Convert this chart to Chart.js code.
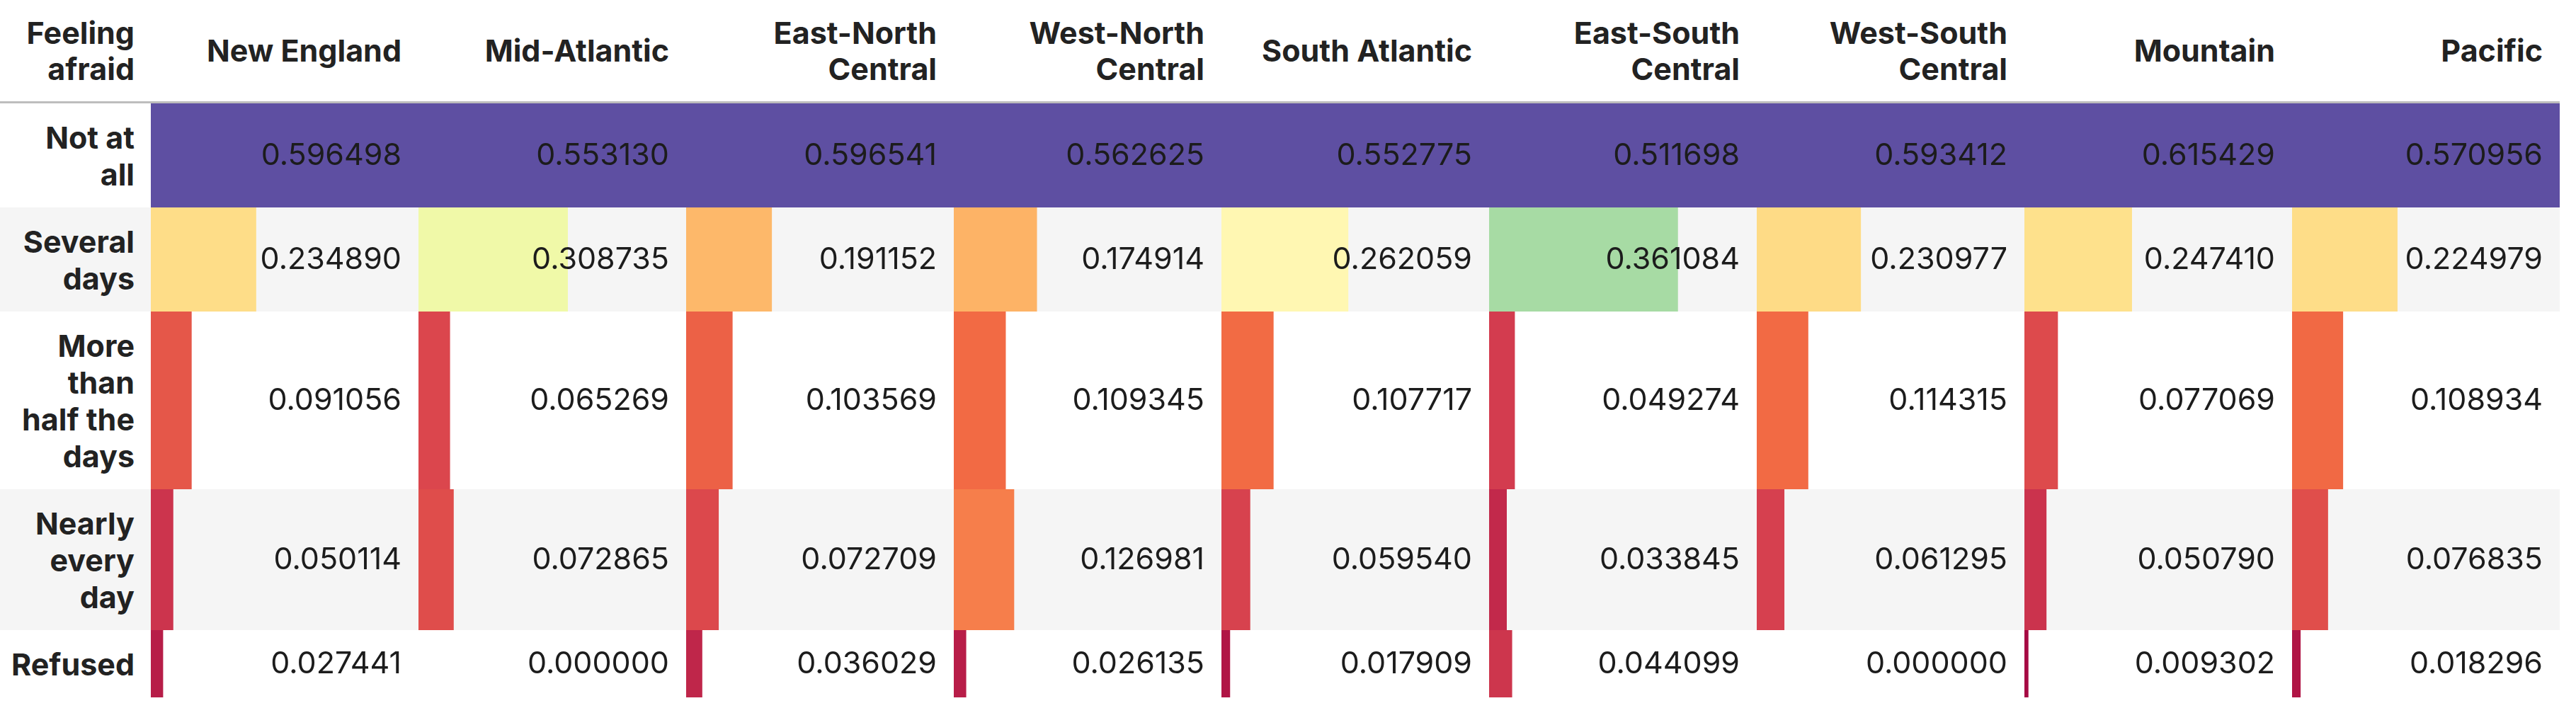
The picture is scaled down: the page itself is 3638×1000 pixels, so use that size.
<!DOCTYPE html>
<html>
<head>
<meta charset="utf-8">
<script src="https://cdn.jsdelivr.net/npm/chart.js@4.4.1/dist/chart.umd.min.js"></script>
<style>
  body { margin: 0; background: #fff; font-family: Inter, 'Noto Sans', sans-serif; color: #222; }
  #table { position: relative; width: 3638px; height: 1000px; }
  .hdr { position: absolute; top: 0; height: 143px; display: flex; align-items: center; justify-content: flex-end;
         text-align: right; font-weight: 700; font-size: 43px; line-height: 51px; padding-right: 24px; box-sizing: border-box; }
  .rule { position: absolute; left: 0; top: 143px; width: 3615px; height: 3px; background: #bdbdbd; }
  .row { position: absolute; left: 0; width: 3615px; }
  .row.alt { background: #f5f5f5; }
  .lbl { position: absolute; left: 0; top: 0; width: 213px; height: 100%; display: flex; align-items: center; justify-content: flex-end;
         text-align: right; padding-right: 23px; box-sizing: border-box; font-weight: 700; font-size: 43px; line-height: 52px; }
  .row canvas { position: absolute; left: 213px; top: 0; }
</style>
</head>
<body>
<div id="table"></div>
<script>
const indexName = ['Feeling', 'afraid']
const regions = ['New England', 'Mid-Atlantic', 'East-North Central', 'West-North Central', 'South Atlantic',
	'East-South Central', 'West-South Central', 'Mountain', 'Pacific']
const categories = [['Not at', 'all'], ['Several', 'days'], ['More', 'than', 'half the', 'days'], ['Nearly', 'every', 'day'], ['Refused']]

const notAtAll = [0.596498, 0.553130, 0.596541, 0.562625, 0.552775, 0.511698, 0.593412, 0.615429, 0.570956]
const severalDays = [0.234890, 0.308735, 0.191152, 0.174914, 0.262059, 0.361084, 0.230977, 0.247410, 0.224979]
const moreThanHalf = [0.091056, 0.065269, 0.103569, 0.109345, 0.107717, 0.049274, 0.114315, 0.077069, 0.108934]
const nearlyEveryDay = [0.050114, 0.072865, 0.072709, 0.126981, 0.059540, 0.033845, 0.061295, 0.050790, 0.076835]
const refused = [0.027441, 0.000000, 0.036029, 0.026135, 0.017909, 0.044099, 0.000000, 0.009302, 0.018296]

const series = [notAtAll, severalDays, moreThanHalf, nearlyEveryDay, refused]

// layout
const LABEL_W = 213
const COL_W = 378
const HEAD_H = 146
const LINE_H = 52
const ROW_PAD = 43

// matplotlib Spectral
const spectral = ['#9e0142', '#d53e4f', '#f46d43', '#fdae61', '#fee08b', '#ffffbf', '#e6f598', '#abdda4', '#66c2a5', '#3288bd', '#5e4fa2']
const hex = (h) => [1, 3, 5].map((i) => parseInt(h.slice(i, i + 2), 16))
const cmap = (t) => {
	t = Math.min(1, Math.max(0, t)) * (spectral.length - 1)
	const i = Math.min(spectral.length - 2, Math.floor(t))
	const a = hex(spectral[i]), b = hex(spectral[i + 1]), f = t - i
	return 'rgb(' + a.map((v, k) => Math.round(v + (b[k] - v) * f)).join(',') + ')'
}

const colMax = regions.map((_, c) => Math.max(...series.map((s) => s[c])))

const valueLabels = {
	id: 'valueLabels',
	afterDatasetsDraw(chart, args, opts) {
		const { ctx, scales: { x, y } } = chart
		ctx.save()
		ctx.font = '43px Inter'
		ctx.fillStyle = '#1c1c1c'
		ctx.textAlign = 'right'
		ctx.textBaseline = 'middle'
		const yc = y.getPixelForValue(0)
		opts.values.forEach((v, c) => ctx.fillText(v.toFixed(6), x.getPixelForValue(c + 1) - 24, yc + 1))
		ctx.restore()
	},
}

const table = document.getElementById('table')
const add = (cls, parent, css) => {
	const el = document.createElement('div')
	el.className = cls
	Object.assign(el.style, css || {})
	parent.appendChild(el)
	return el
}

// header
add('hdr', table, { left: '0px', width: LABEL_W + 'px', paddingRight: '23px' }).innerHTML = indexName.join('<br>')
regions.forEach((r, c) => {
	const lines = r.endsWith(' Central') ? [r.replace(' Central', ''), 'Central'] : [r]
	add('hdr', table, { left: LABEL_W + c * COL_W + 'px', width: COL_W + 'px' }).innerHTML = lines.join('<br>')
})
add('rule', table)

// body rows
let rowTop = HEAD_H
categories.forEach((lines, r) => {
	const h = ROW_PAD + LINE_H * lines.length
	const row = add(r % 2 ? 'row alt' : 'row', table, { top: rowTop + 'px', height: h + 'px' })
	add('lbl', row).innerHTML = lines.join('<br>')
	const canvas = document.createElement('canvas')
	canvas.width = COL_W * regions.length
	canvas.height = h
	row.appendChild(canvas)

	new Chart(canvas, {
		type: 'bar',
		data: {
			labels: [lines.join(' ')],
			datasets: regions.map((region, c) => ({
				label: region,
				data: [[c, c + series[r][c] / colMax[c]]],
				backgroundColor: cmap(series[r][c] / colMax[c]),
				borderWidth: 0,
				inflateAmount: 0,
				grouped: false,
				categoryPercentage: 1,
				barPercentage: 1,
			})),
		},
		options: {
			indexAxis: 'y',
			responsive: false,
			animation: false,
			devicePixelRatio: 1,
			layout: { padding: 0 },
			scales: {
				x: { type: 'linear', min: 0, max: regions.length, display: false },
				y: { display: false },
			},
			plugins: {
				legend: { display: false },
				tooltip: { enabled: false },
				valueLabels: { values: series[r] },
			},
		},
		plugins: [valueLabels],
	})
	rowTop += h
})
</script>
</body>
</html>
